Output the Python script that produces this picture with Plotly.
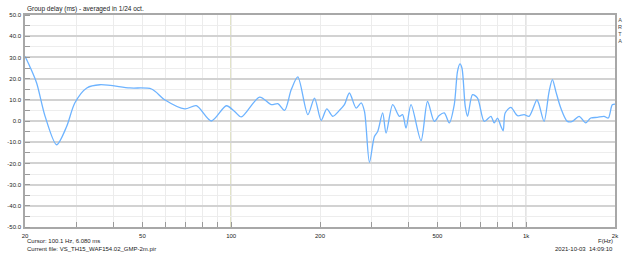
import plotly.graph_objects as go

freq_hz = [20, 20.8, 21.9, 23.4, 25.6, 27.7, 29.5, 32.4, 35.9, 45.3, 53.7, 59.5, 69.6, 76.2, 85.6, 96.3,
           102.7, 108.2, 124.8, 136.8, 143.9, 151.7, 159.8, 168.2, 181.9, 191.6, 201.8, 210.9, 221,
           232.8, 242, 251.6, 265.2, 275.8, 283, 294.2, 305.8, 313.8, 326.2, 335, 352.8, 371.6, 381,
           391.4, 407, 440, 463, 488, 507, 527.6, 548.6, 570.4, 585, 596.4, 605.6, 621.4, 632.8,
           657.8, 684, 720.8, 759.2, 779, 799.4, 820.8, 835.6, 848.6, 887, 934, 984, 1023, 1087,
           1106, 1150, 1196, 1227, 1260, 1310, 1379, 1434, 1511, 1591, 1655, 1742, 1836, 1898,
           1958, 2000]
group_delay_ms = [30.5, 25.5, 17.9, 2.2, -11.2, -2.5, 8.5, 15.6, 17.1, 15.6, 15.1, 10, 5.7, 7.2, 0, 7.2,
                  4.5, 1.9, 11.3, 7.7, 8.2, 5.0, 14.8, 20.8, 3.0, 10.8, 0.3, 5.7, 2.2,
                  5.0, 7.7, 13.2, 6.1, 8.5, 4.5, -19.5, -7.3, -4.9, 3.8, -5.7, 7.7, 2.2, 3.0,
                  -3.3, 7.7, -9.3, 9.2, -0.2, 2.6, 3.8, -0.9, 7.7, 23.4, 26.9, 25, 6.9, 2.2,
                  12.4, 10.8, -0.2, 2.2, -0.9, 1.4, -2.5, -4.6, 3.8, 6.4, 2.5, 3.0, 2.2, 10.0,
                  7.7, -0.2, 14.0, 19.5, 14.0, 6.1, -0.2, -0.2, 2.2, -0.9, 1.4, 1.7, 2.2, 1.4,
                  7.7, 8.0]

x_tickvals = [20, 30, 40, 50, 60, 70, 80, 90, 100, 200, 300, 400, 500, 600, 700, 800, 900, 1000, 2000]
x_ticktext = ["20", "", "", "50", "", "", "", "", "100", "200", "", "", "500", "", "", "", "", "1k", "2k"]
y_tickvals = [-50, -40, -30, -20, -10, 0, 10, 20, 30, 40, 50]
y_ticktext = ["-50.0", "-40.0", "-30.0", "-20.0", "-10.0", "0.0", "10.0", "20.0", "30.0", "40.0", "50.0"]

FONT = "Liberation Sans, Arial, sans-serif"

fig = go.Figure()
fig.add_trace(go.Scatter(x=freq_hz, y=group_delay_ms, mode="lines",
                         line=dict(color="#6db3ff", width=1.3, shape="spline", smoothing=0.8),
                         showlegend=False))

fig.add_shape(type="line", xref="x", yref="paper", x0=100, x1=100, y0=0, y1=1,
              line=dict(color="#b8bb78", width=1.2), layer="below")
fig.add_shape(type="line", xref="x", yref="paper", x0=1000, x1=1000, y0=0, y1=1,
              line=dict(color="#bdbdbd", width=1.2), layer="below")

fig.update_layout(
    width=640, height=253,
    margin=dict(l=25, r=25, t=15, b=26),
    paper_bgcolor="white", plot_bgcolor="white",
    font=dict(family=FONT, size=6, color="#222222"),
    xaxis=dict(type="log", range=[1.30103, 3.30103], tickvals=x_tickvals, ticktext=x_ticktext,
               showgrid=True, gridcolor="#ececec", gridwidth=1, automargin=False,
               ticks="inside", ticklen=5, tickcolor="#9a9a9a", tickwidth=1,
               showline=True, linecolor="#a8a8a8", linewidth=1.5, mirror=True,
               zeroline=False, tickfont=dict(size=6), ticklabelstandoff=2),
    yaxis=dict(range=[-50, 50], tickvals=y_tickvals, ticktext=y_ticktext, automargin=False,
               showgrid=True, gridcolor="#d2d2d2", gridwidth=1.5,
               minor=dict(dtick=5, showgrid=True, gridcolor="#ededed", gridwidth=1,
                          ticks="inside", ticklen=5, tickcolor="#9a9a9a"),
               ticks="", showline=True, linecolor="#a8a8a8", linewidth=1.5, mirror=True,
               zeroline=False, tickfont=dict(size=6), ticklabelstandoff=1),
)

fig.add_annotation(text="Group delay (ms) - averaged in 1/24 oct.", xref="paper", yref="paper",
                   x=0, y=1, xanchor="left", yanchor="bottom", yshift=0, showarrow=False,
                   font=dict(size=6.5))
fig.add_annotation(text="A<br>R<br>T<br>A", xref="paper", yref="paper", x=1, y=1,
                   xanchor="left", yanchor="top", xshift=1, showarrow=False,
                   font=dict(size=5.5, color="#444444"))
fig.add_annotation(text="Cursor: 100.1 Hz, 6.080 ms", xref="paper", yref="paper", x=0, y=0,
                   xanchor="left", yanchor="middle", yshift=-14, showarrow=False, font=dict(size=6))
fig.add_annotation(text="Current file: VS_TH15_WAF154.02_GMP-2m.pir", xref="paper", yref="paper",
                   x=0, y=0, xanchor="left", yanchor="middle", yshift=-22, showarrow=False,
                   font=dict(size=6))
fig.add_annotation(text="F(Hz)", xref="paper", yref="paper", x=1, y=0,
                   xanchor="right", yanchor="middle", yshift=-14, showarrow=False, font=dict(size=6))
fig.add_annotation(text="2021-10-03  14:09:10", xref="paper", yref="paper", x=1, y=0,
                   xanchor="right", yanchor="middle", yshift=-22, showarrow=False, font=dict(size=6))

fig.write_html("out.html")
